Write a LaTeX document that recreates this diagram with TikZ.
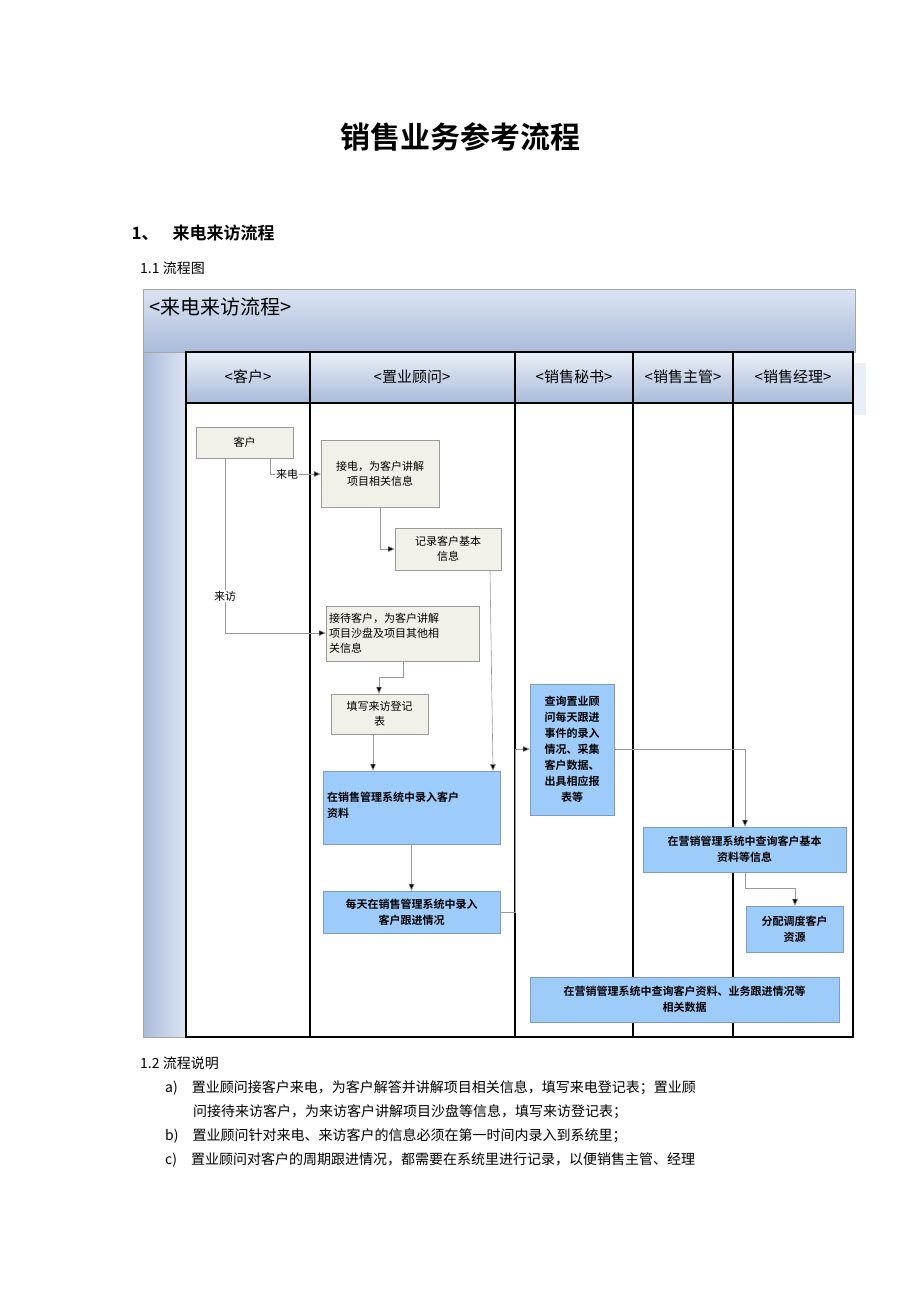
\documentclass[tikz,border=0pt]{standalone}
\usepackage{fontspec}
\setmainfont{Noto Sans CJK SC}
\newfontfamily\cjkb{Noto Sans CJK SC Bold}
\usetikzlibrary{arrows.meta}
\definecolor{grayfill}{HTML}{F1F1EA}
\definecolor{grayedge}{HTML}{9A9A9A}
\definecolor{bluefill}{HTML}{9DCBFA}
\definecolor{blueedge}{HTML}{7C9CC4}
\definecolor{bandtop}{HTML}{DCE4F2}
\definecolor{bandbot}{HTML}{A9BBDA}
\tikzset{
  gbox/.style={draw=grayedge,fill=grayfill,inner sep=2pt,font=\fontsize{11}{15}\selectfont,align=center},
  bbox/.style={draw=blueedge,fill=bluefill,inner sep=2pt,font=\cjkb\fontsize{11}{16}\selectfont,align=center},
  conn/.style={draw=gray!80,line width=0.6pt,-{Triangle[length=7pt,width=6pt,fill=black]}},
  lbl/.style={font=\fontsize{11}{13}\selectfont,fill=white,inner sep=1pt},
  hdr/.style={font=\fontsize{15}{18}\selectfont},
  body/.style={font=\fontsize{14}{18}\selectfont,anchor=west,inner sep=0pt},
  lane/.style={line width=2.6pt,black}
}
\begin{document}
\begin{tikzpicture}[x=1pt,y=-1pt]
\useasboundingbox (0,0) rectangle (920,1302);
\fill[white] (0,0) rectangle (920,1302);
\node[font=\cjkb\fontsize{30}{34}\selectfont] (title) at (460,137) {销售业务参考流程};
\node[font=\cjkb\fontsize{17}{20}\selectfont,anchor=west] (sec) at (128,233) {1、\hspace{14pt}来电来访流程};
\node[body] (sub) at (140,268) {1.1 流程图};
% frame
\shade[top color=bandtop,bottom color=bandbot] (143,289) rectangle (855,352);
\draw[gray!70,line width=0.8pt] (143,289) rectangle (855,352);
\node[font=\fontsize{20}{24}\selectfont,anchor=west] (ptitle) at (146,307) {<来电来访流程>};
\shade[left color=bandbot,right color=bandtop] (143,352) rectangle (186,1037);
\draw[gray!70,line width=0.8pt] (143,352) rectangle (186,1037);
% header faint shadow
\fill[bandtop!60] (198,363) rectangle (866,415);
\foreach \x/\w in {186/310,310/515,515/633,633/733,733/853}{
  \shade[top color=bandtop!60,bottom color=bandbot] (\x,352) rectangle (\w,403);}
\node[hdr] (h1) at (248,377) {<客户>};
\node[hdr] (h2) at (412,377) {<置业顾问>};
\node[hdr] (h3) at (574,377) {<销售秘书>};
\node[hdr] (h4) at (683,377) {<销售主管>};
\node[hdr] (h5) at (793,377) {<销售经理>};
\fill[white] (186,403) rectangle (853,1037);
\draw[lane] (186,352) rectangle (853,1037);
\draw[lane] (186,403) -- (853,403);
\foreach \x in {310,515,633,733}{\draw[lane] (\x,352) -- (\x,1037);}
% nodes
\node[gbox,minimum width=97pt,minimum height=31pt] (kehu) at (244.5,442.5) {客户};
\node[gbox,minimum width=118pt,minimum height=67pt] (jiedian) at (380,473.5) {接电，为客户讲解\\项目相关信息};
\node[gbox,minimum width=106pt,minimum height=42pt] (jilu) at (448,549) {记录客户基本\\信息};
\node[gbox,minimum width=153pt,minimum height=55pt,align=left,text width=147pt] (jiedai) at (402.5,633.5) {接待客户，为客户讲解\\项目沙盘及项目其他相\\关信息};
\node[gbox,minimum width=97pt,minimum height=40pt] (tianxie) at (379.5,714) {填写来访登记\\表};
\node[bbox,minimum width=177pt,minimum height=73pt] (luru) at (411.5,807.5) {};
\node[font=\cjkb\fontsize{11}{16}\selectfont,align=left,anchor=north west,inner sep=0pt] (lurut) at (327,792) {在销售管理系统中录入客户\\资料};
\node[bbox,minimum width=177pt,minimum height=42pt] (meitian) at (411.5,912) {每天在销售管理系统中录入\\客户跟进情况};
\node[bbox,minimum width=84pt,minimum height=131pt] (chaxun) at (572,749.5) {查询置业顾\\问每天跟进\\事件的录入\\情况、采集\\客户数据、\\出具相应报\\表等};
\node[bbox,minimum width=203pt,minimum height=45pt] (jiben) at (744.5,849.5) {在营销管理系统中查询客户基本\\资料等信息};
\node[bbox,minimum width=97pt,minimum height=46pt] (fenpei) at (794.5,929) {分配调度客户\\资源};
\node[bbox,minimum width=309pt,minimum height=45pt] (xiangguan) at (684.5,999.5) {在营销管理系统中查询客户资料、业务跟进情况等\\相关数据};
% connectors
\coordinate (c1) at (270,474);
\draw[conn] (kehu.south -| c1) -- (c1) -- (jiedian.west |- c1);
\node[lbl] (laidian) at (287,474) {来电};
\coordinate (c2) at (225,633);
\draw[conn] (kehu.south -| c2) -- (c2) -- (jiedai.west |- c2);
\node[lbl] (laifang) at (225,596) {来访};
\coordinate (c3) at (380,549);
\draw[conn] (jiedian.south -| c3) -- (c3) -- (jilu.west |- c3);
\coordinate (c4a) at (490,570);
\coordinate (c4b) at (493,771);
\draw[conn] (c4a) -- (c4b);
\coordinate (c5a) at (403,677);
\coordinate (c5b) at (379,677);
\draw[conn] (jiedai.south -| c5a) -- (c5a) -- (c5b) -- (tianxie.north -| c5b);
\coordinate (c6) at (373,734);
\draw[conn] (c6) -- (luru.north -| c6);
\draw[conn] (luru.south) -- (meitian.north);
\coordinate (c7a) at (515,912);
\coordinate (c7b) at (515,749);
\draw[conn] (meitian.east) -- (c7a) -- (c7b) -- (chaxun.west |- c7b);
\coordinate (c8) at (745,749);
\draw[conn] (chaxun.east |- c8) -- (c8) -- (jiben.north -| c8);
\coordinate (c9a) at (745,888);
\coordinate (c9b) at (795,888);
\draw[conn] (jiben.south -| c9a) -- (c9a) -- (c9b) -- (fenpei.north -| c9b);
% text
\node[body] (s12) at (140,1063) {1.2 流程说明};
\node[body] (a) at (165,1088) {a)\hspace{14pt}置业顾问接客户来电，为客户解答并讲解项目相关信息，填写来电登记表；置业顾};
\node[body] (a2) at (193,1112) {问接待来访客户，为来访客户讲解项目沙盘等信息，填写来访登记表；};
\node[body] (b) at (165,1136) {b)\hspace{14pt}置业顾问针对来电、来访客户的信息必须在第一时间内录入到系统里；};
\node[body] (c) at (165,1160) {c)\hspace{14pt}置业顾问对客户的周期跟进情况，都需要在系统里进行记录，以便销售主管、经理};
\end{tikzpicture}
\end{document}
